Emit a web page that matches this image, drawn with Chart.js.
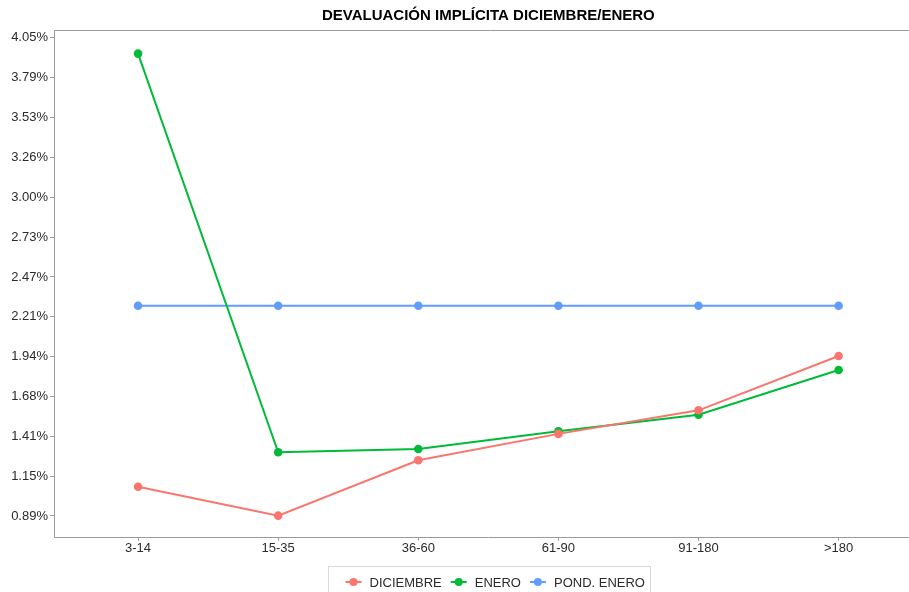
<!DOCTYPE html>
<html>
<head>
<meta charset="utf-8">
<script src="https://cdn.jsdelivr.net/npm/chart.js@4"></script>
<style>
  html, body { margin: 0; padding: 0; background: #fff; overflow: hidden; }
  #wrap { width: 927px; height: 592px; position: relative; }
</style>
</head>
<body>
<div id="wrap"><canvas id="chart"></canvas></div>
<script>
const categories = ['3-14', '15-35', '36-60', '61-90', '91-180', '>180']
const diciembre = [1.08, 0.888, 1.255, 1.43, 1.586, 1.946]
const enero = [3.95, 1.308, 1.33, 1.447, 1.557, 1.853]
const pondEnero = [2.279, 2.279, 2.279, 2.279, 2.279, 2.279]
const yTickValues = [0.886, 1.15, 1.414, 1.678, 1.942, 2.206, 2.47, 2.734, 2.998, 3.262, 3.526, 3.79, 4.054]

const FONT = "'Liberation Sans', Arial, sans-serif"
const AXIS_GREY = '#9a9a9a'
const TEXT = '#2b2b2b'

const series = [
  { label: 'DICIEMBRE', values: diciembre, color: '#F8766D' },
  { label: 'ENERO', values: enero, color: '#00BA38' },
  { label: 'POND. ENERO', values: pondEnero, color: '#619CFF' }
]

const frame = {
  id: 'frame',
  afterDraw(chart) {
    const ctx = chart.ctx
    const a = chart.chartArea
    ctx.save()
    // top border of the panel
    ctx.strokeStyle = AXIS_GREY
    ctx.lineWidth = 1
    ctx.beginPath()
    ctx.moveTo(a.left, 30.5)
    ctx.lineTo(chart.width, 30.5)
    ctx.stroke()

    // legend box at the bottom
    ctx.font = '13px ' + FONT
    const items = chart.data.datasets.map(d => ({
      text: d.label,
      color: d.borderColor,
      w: ctx.measureText(d.label).width
    }))
    const keyW = 16, keyGap = 8, itemGap = 9, padL = 17, padR = 6
    let total = 0
    items.forEach((it, i) => { total += keyW + keyGap + it.w + (i < items.length - 1 ? itemGap : 0) })
    const boxW = total + padL + padR
    const bx = 328.5
    ctx.strokeStyle = '#d9d9d9'
    ctx.strokeRect(bx, 566.5, Math.round(boxW), 40)
    let x = bx + padL
    const y = 582
    items.forEach(it => {
      ctx.strokeStyle = it.color
      ctx.lineWidth = 2
      ctx.beginPath()
      ctx.moveTo(x, y)
      ctx.lineTo(x + keyW, y)
      ctx.stroke()
      ctx.fillStyle = it.color
      ctx.beginPath()
      ctx.arc(x + keyW / 2, y, 4, 0, Math.PI * 2)
      ctx.fill()
      x += keyW + keyGap
      ctx.fillStyle = TEXT
      ctx.textBaseline = 'middle'
      ctx.textAlign = 'left'
      ctx.fillText(it.text, x, y + 1)
      x += it.w + itemGap
    })
    ctx.restore()
  }
}

new Chart(document.getElementById('chart'), {
  type: 'line',
  data: {
    datasets: series.map(s => ({
      label: s.label,
      data: s.values.map((v, i) => ({ x: i, y: v })),
      borderColor: s.color,
      backgroundColor: s.color,
      borderWidth: 2,
      pointRadius: 4.3,
      pointHoverRadius: 4.3,
      pointBorderWidth: 0,
      tension: 0
    }))
  },
  options: {
    responsive: true,
    maintainAspectRatio: false,
    animation: false,
    layout: { padding: 0 },
    plugins: {
      legend: { display: false },
      tooltip: { enabled: false },
      title: {
        display: true,
        fullSize: false,
        text: 'DEVALUACIÓN IMPLÍCITA DICIEMBRE/ENERO',
        color: '#000',
        font: { family: FONT, size: 15, weight: 'bold' },
        padding: { top: 7, bottom: 5.5 }
      }
    },
    scales: {
      x: {
        type: 'linear',
        min: -0.6,
        max: 5.6,
        afterBuildTicks: scale => { scale.ticks = categories.map((c, i) => ({ value: i })) },
        afterFit: scale => { scale.height = 592 - 537.7 },
        ticks: {
          callback: v => categories[v],
          color: TEXT,
          font: { family: FONT, size: 13 },
          padding: 0,
          maxRotation: 0,
          autoSkip: false
        },
        grid: { drawOnChartArea: false, drawTicks: true, tickLength: 3, color: AXIS_GREY },
        border: { display: true, color: AXIS_GREY, width: 1 }
      },
      y: {
        type: 'linear',
        min: 0.742,
        max: 4.103,
        afterBuildTicks: scale => { scale.ticks = yTickValues.map(v => ({ value: v })) },
        afterFit: scale => { scale.width = 54 },
        ticks: {
          callback: v => v.toFixed(2) + '%',
          color: TEXT,
          font: { family: FONT, size: 13 },
          padding: 2
        },
        grid: { drawOnChartArea: false, drawTicks: true, tickLength: 4, color: AXIS_GREY },
        border: { display: true, color: AXIS_GREY, width: 1 }
      }
    }
  },
  plugins: [frame]
})
</script>
</body>
</html>
